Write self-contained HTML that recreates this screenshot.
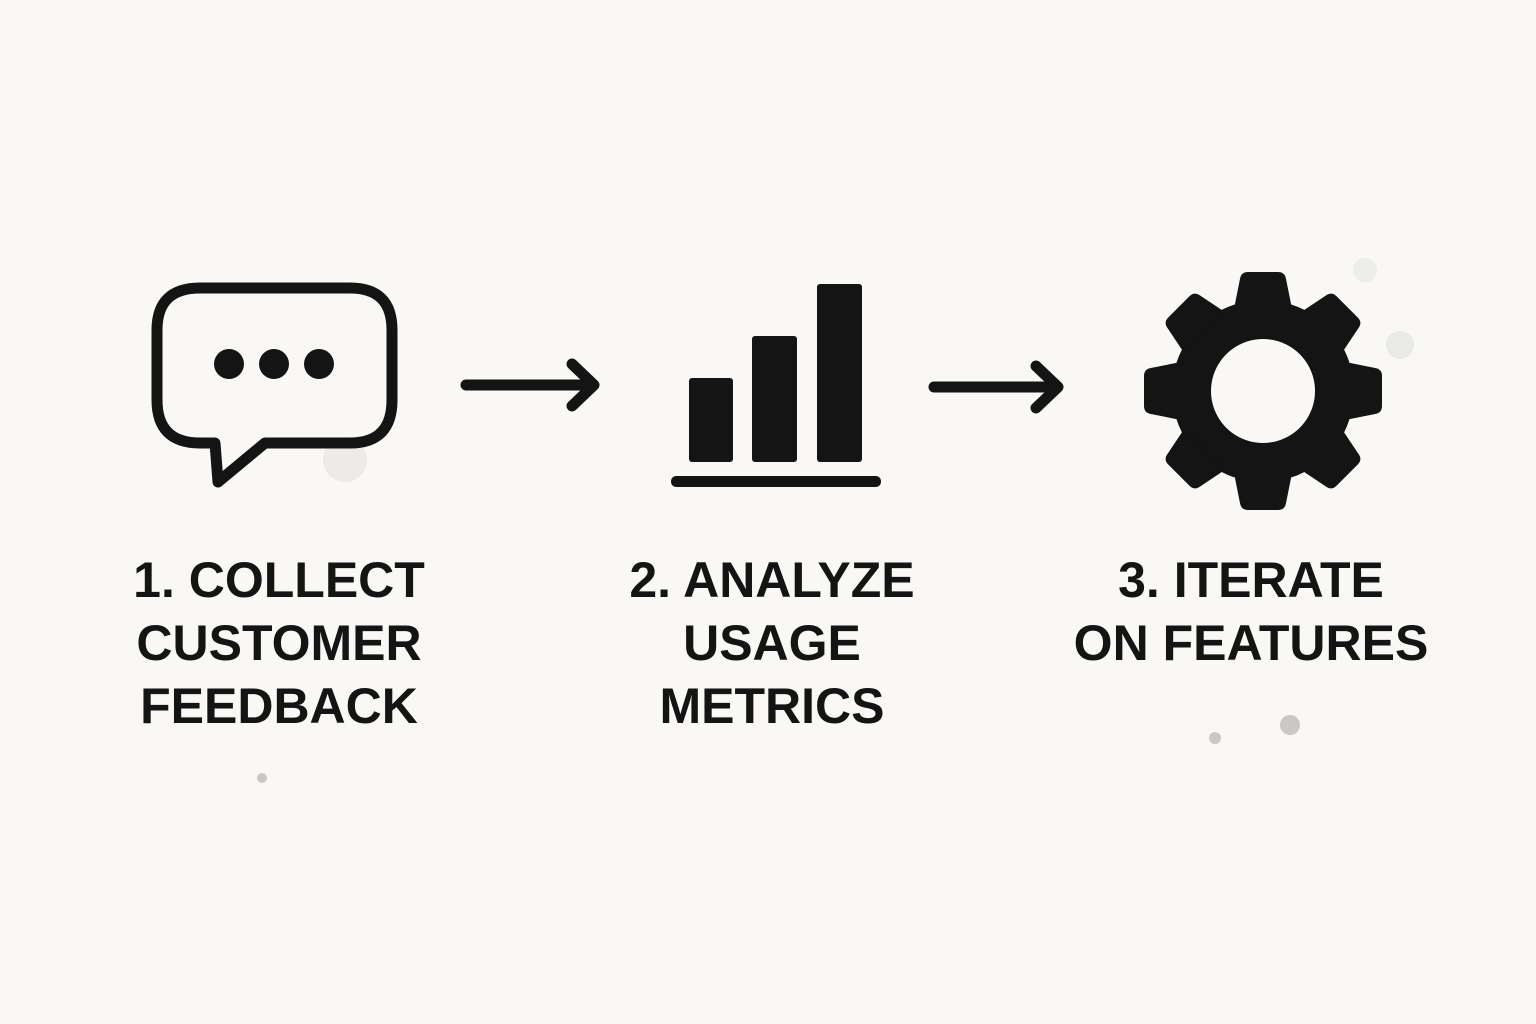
<!DOCTYPE html>
<html><head><meta charset="utf-8"><style>
html,body{margin:0;padding:0;background:#f9f8f4;}
body{width:1536px;height:1024px;position:relative;overflow:hidden;font-family:"Liberation Sans",sans-serif;}
.t{position:absolute;font-weight:bold;font-size:50px;color:#141414;text-align:center;line-height:63px;width:500px;}
</style></head><body>
<svg width="1536" height="1024" style="position:absolute;left:0;top:0">
<g fill="#999" opacity="0.5">
<circle cx="345" cy="460" r="22" fill="#bbb" opacity="0.4"/>
<circle cx="262" cy="778" r="5"/>
<circle cx="1290" cy="725" r="10"/>
<circle cx="1215" cy="738" r="6"/>
<circle cx="1400" cy="345" r="14" fill="#bbb" opacity="0.5"/>
<circle cx="1365" cy="270" r="12" fill="#ccc" opacity="0.5"/>
</g>
<g fill="none" stroke="#141414" stroke-width="11" stroke-linejoin="round" stroke-linecap="round">
<path d="M215,443 L200,443 Q157,443 157,400 L157,330 Q157,288 200,288 L350,288 Q392,288 392,330 L392,400 Q392,443 350,443 L265,443 L218,482 Z"/>
<path d="M466,385 L594,385 M572,364 L594,385 L572,406"/>
<path d="M934,387 L1058,387 M1036,366 L1058,387 L1036,408"/>
</g>
<g fill="#141414">
<circle cx="229" cy="364" r="15"/><circle cx="274" cy="364" r="15"/><circle cx="319" cy="364" r="15"/>
<rect x="689" y="378" width="44" height="84" rx="3"/>
<rect x="752" y="336" width="45" height="126" rx="3"/>
<rect x="817" y="284" width="45" height="178" rx="3"/>
<rect x="671" y="476" width="210" height="11" rx="5"/>
<g transform="translate(1263,391)">
<path fill-rule="evenodd" d="M0,-91 A91,91 0 1,1 -0.01,-91 Z M0,-52 A52,52 0 1,0 0.01,-52 Z"/>
<g id="tt"><path d="M-28,-82 L-22,-112 Q-21,-118 -15,-118 L15,-118 Q21,-118 22,-112 L28,-82 Z" stroke="#141414" stroke-width="2" stroke-linejoin="round"/></g>
<use href="#tt" transform="rotate(45)"/><use href="#tt" transform="rotate(90)"/><use href="#tt" transform="rotate(135)"/>
<use href="#tt" transform="rotate(180)"/><use href="#tt" transform="rotate(225)"/><use href="#tt" transform="rotate(270)"/><use href="#tt" transform="rotate(315)"/>
</g>
</g>
</svg>
<div class="t" style="left:29px;top:549px">1. COLLECT<br>CUSTOMER<br>FEEDBACK</div>
<div class="t" style="left:522px;top:549px">2. ANALYZE<br>USAGE<br>METRICS</div>
<div class="t" style="left:1001px;top:549px">3. ITERATE<br>ON FEATURES</div>
</body></html>
